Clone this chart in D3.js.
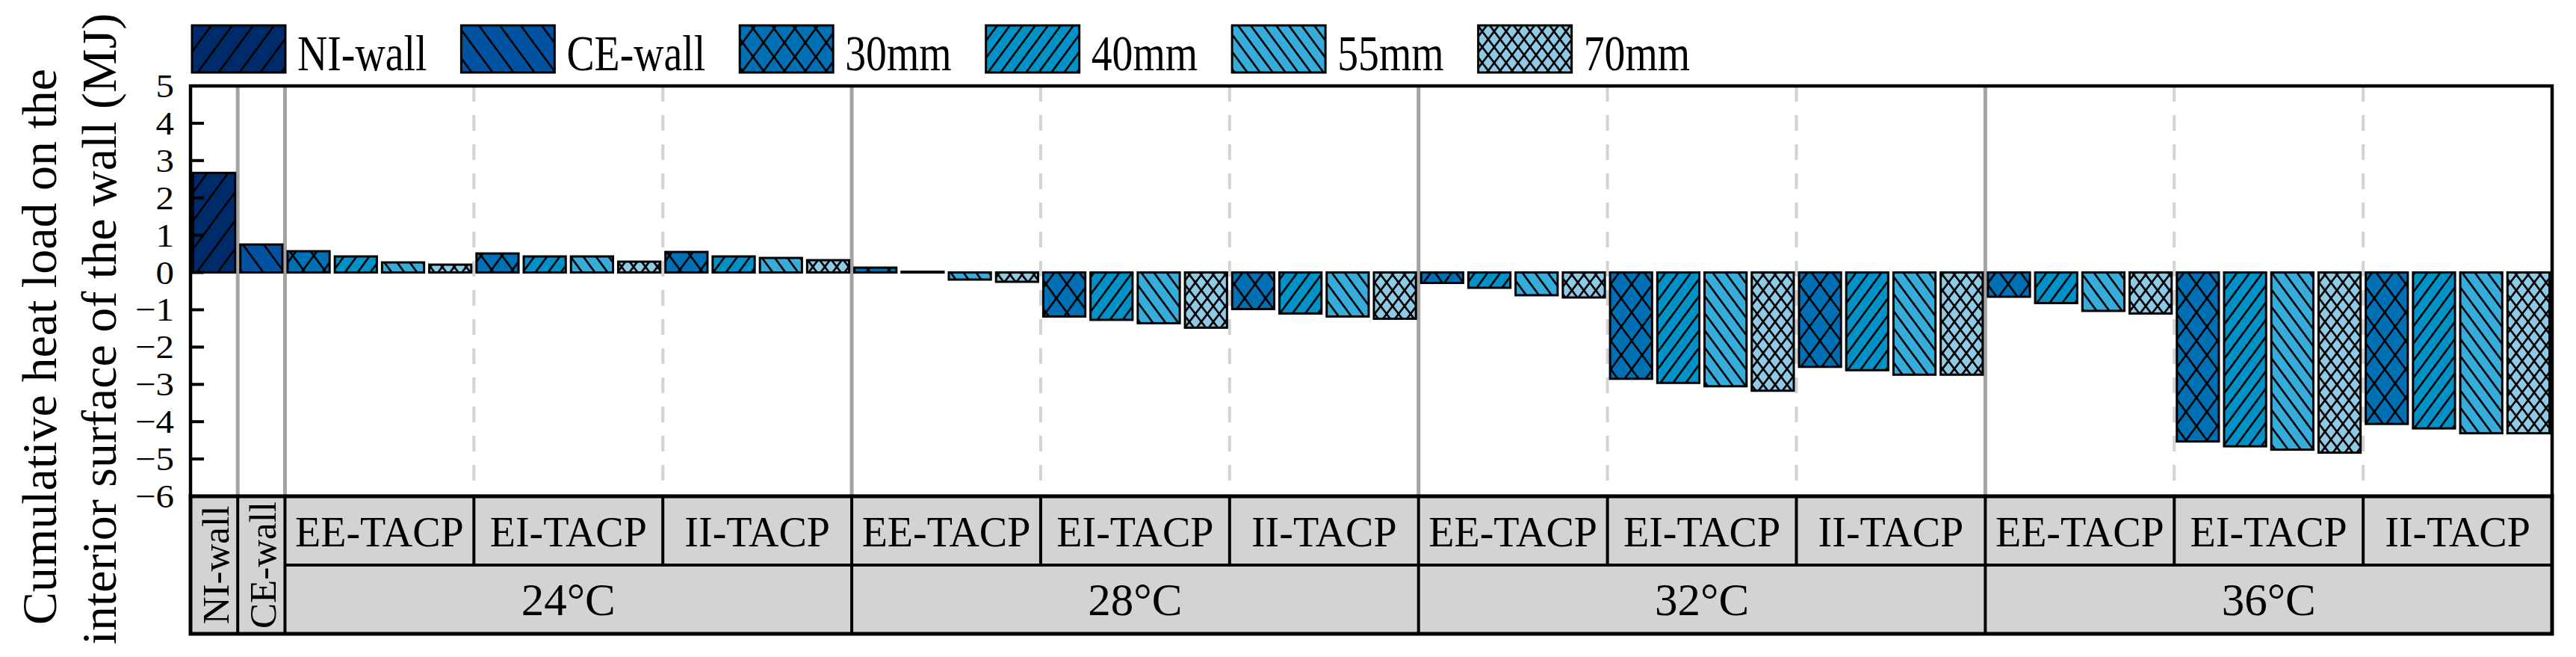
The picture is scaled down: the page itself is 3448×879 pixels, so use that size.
<!DOCTYPE html>
<html><head><meta charset="utf-8">
<script src="https://cdn.jsdelivr.net/npm/d3@7"></script>
<style>
body{margin:0;background:#fff}
text{font-family:"Liberation Serif","Times New Roman",serif;fill:#000}
</style>
</head><body>
<svg id="c" width="3448" height="879"></svg>
<script>
// ---------- data ----------
const seriesNames = ["NI-wall","CE-wall","30mm","40mm","55mm","70mm"];
const seriesColors = ["#002b6b","#0152a0","#0070b5","#0092c7","#35acd9","#8ecae4"];
const baseWalls = ["NI-wall","CE-wall"];
const baseValues = [2.67, 0.75];
const temperatures = ["24°C","28°C","32°C","36°C"];
const tacpTypes = ["EE-TACP","EI-TACP","II-TACP"];
const thicknesses = ["30mm","40mm","55mm","70mm"];
// rows: EE, EI, II ; columns: 30, 40, 55, 70 mm
const values24 = [[0.57,0.43,0.27,0.21],[0.51,0.43,0.43,0.29],[0.55,0.43,0.39,0.33]];
const values28 = [[0.13,0.02,-0.19,-0.25],[-1.18,-1.27,-1.36,-1.48],[-0.98,-1.10,-1.18,-1.24]];
const values32 = [[-0.28,-0.41,-0.61,-0.67],[-2.85,-2.96,-3.05,-3.17],[-2.53,-2.62,-2.74,-2.74]];
const values36 = [[-0.65,-0.82,-1.03,-1.10],[-4.53,-4.66,-4.75,-4.83],[-4.06,-4.18,-4.31,-4.31]];
const yTicks = [5,4,3,2,1,0,-1,-2,-3,-4,-5,-6];
const yTitle = ["Cumulative heat load on the","interior surface of the wall (MJ)"];

const tempValues = [values24, values28, values32, values36];

// ---------- build records ----------
const bars = [];
baseWalls.forEach((w,i)=>bars.push({key:w, series:w, value:baseValues[i]}));
temperatures.forEach((t,ti)=>tacpTypes.forEach((ty,yi)=>thicknesses.forEach((th,hi)=>{
  bars.push({key:t+"|"+ty+"|"+th, series:th, temp:t, type:ty, value:tempValues[ti][yi][hi]});
})));

// ---------- layout ----------
const L=255, R=3416, T=115, B=664, row1=756, tableB=848;
const svg = d3.select("#c");
const x = d3.scaleBand().domain(bars.map(d=>d.key)).range([L,R]).padding(0);
const y = d3.scaleLinear().domain([-6,5]).range([B,T]);
const bw = x.bandwidth();

// ---------- hatch patterns ----------
const hatchDefs = {
  "NI-wall":{dir:"/",w:28,h:38},
  "CE-wall":{dir:"\\",w:28,h:38},
  "30mm":{dir:"x",w:28,h:38},
  "40mm":{dir:"/",w:17,h:23},
  "55mm":{dir:"\\",w:17,h:23},
  "70mm":{dir:"x",w:16,h:21}
};
const defs = svg.append("defs");
seriesNames.forEach((s,i)=>{
  const hd = hatchDefs[s], W=hd.w, H=hd.h;
  const p = defs.append("pattern").attr("id","hp"+i).attr("patternUnits","userSpaceOnUse")
    .attr("width",W).attr("height",H);
  p.append("rect").attr("width",W).attr("height",H).attr("fill",seriesColors[i]);
  const fwd = `M0,${H}L${W},0M${-W/4},${H/4}L${W/4},${-H/4}M${3*W/4},${5*H/4}L${5*W/4},${3*H/4}`;
  const bwd = `M0,0L${W},${H}M${-W/4},${3*H/4}L${W/4},${5*H/4}M${3*W/4},${-H/4}L${5*W/4},${H/4}`;
  const d = hd.dir==="/"?fwd:hd.dir==="\\"?bwd:fwd+bwd;
  p.append("path").attr("d",d).attr("stroke","#000").attr("stroke-width",2.6).attr("fill","none");
});
const pid = s=>"url(#hp"+seriesNames.indexOf(s)+")";

// ---------- vertical separators ----------
const solidSeps = [x("CE-wall"), x(bars[2].key)];
temperatures.slice(1).forEach(t=>solidSeps.push(x(t+"|EE-TACP|30mm")));
const dashedSeps = [];
temperatures.forEach(t=>tacpTypes.slice(1).forEach(ty=>dashedSeps.push(x(t+"|"+ty+"|30mm"))));
svg.append("g").selectAll("line").data(dashedSeps).join("line")
  .attr("x1",d=>d).attr("x2",d=>d).attr("y1",T).attr("y2",B)
  .attr("stroke","#d3d3d3").attr("stroke-width",4).attr("stroke-dasharray","21,18");
svg.append("g").selectAll("line").data(solidSeps).join("line")
  .attr("x1",d=>d).attr("x2",d=>d).attr("y1",T).attr("y2",B)
  .attr("stroke","#a3a3a3").attr("stroke-width",5);

// ---------- bars ----------
const inset = bw*0.055, barW = bw*0.89;
svg.append("g").selectAll("rect").data(bars).join("rect")
  .attr("x",d=>x(d.key)+inset).attr("width",barW)
  .attr("y",d=>y(Math.max(0,d.value))).attr("height",d=>Math.abs(y(d.value)-y(0)))
  .attr("fill",d=>pid(d.series)).attr("stroke","#000").attr("stroke-width",3);

// ---------- frame & ticks ----------
svg.append("rect").attr("x",L).attr("y",T).attr("width",R-L).attr("height",B-T)
  .attr("fill","none").attr("stroke","#000").attr("stroke-width",4.5);
const fmt = d=>d<0?"\u2212"+Math.abs(d):String(d);
svg.append("g").selectAll("line").data(yTicks.filter(v=>v<5&&v>-6)).join("line")
  .attr("x1",L).attr("x2",L+18).attr("y1",d=>y(d)).attr("y2",d=>y(d))
  .attr("stroke","#000").attr("stroke-width",4);
svg.append("g").selectAll("text").data(yTicks).join("text")
  .attr("transform",d=>`translate(233,${y(d)}) scale(1.1,1)`)
  .attr("y",15).attr("text-anchor","end").attr("font-size",44.5)
  .text(fmt);

// ---------- y title ----------
const titleCenters = [464, 440], titleX = [75, 155];
yTitle.forEach((t,i)=>{
  svg.append("text").attr("transform",`translate(${titleX[i]},${titleCenters[i]}) rotate(-90)`)
    .attr("text-anchor","middle").attr("font-size",66).text(t);
});

// ---------- table ----------
const tg = svg.append("g");
tg.append("rect").attr("x",L).attr("y",B).attr("width",R-L).attr("height",tableB-B).attr("fill","#d3d3d3");
tg.append("line").attr("x1",x(bars[2].key)).attr("x2",R).attr("y1",row1).attr("y2",row1)
  .attr("stroke","#000").attr("stroke-width",4);
solidSeps.forEach(sx=>tg.append("line").attr("x1",sx).attr("x2",sx).attr("y1",B).attr("y2",tableB)
  .attr("stroke","#000").attr("stroke-width",4));
dashedSeps.forEach(sx=>tg.append("line").attr("x1",sx).attr("x2",sx).attr("y1",B).attr("y2",row1)
  .attr("stroke","#000").attr("stroke-width",4));
tg.append("rect").attr("x",L).attr("y",B).attr("width",R-L).attr("height",tableB-B)
  .attr("fill","none").attr("stroke","#000").attr("stroke-width",5);
baseWalls.forEach(w=>{
  tg.append("text").attr("transform",`translate(${x(w)+bw/2+2},${(B+tableB)/2}) rotate(-90)`)
    .attr("text-anchor","middle").attr("dominant-baseline","central").attr("font-size",51).text(w);
});
temperatures.forEach(t=>tacpTypes.forEach(ty=>{
  const x0 = x(t+"|"+ty+"|30mm"), x1 = x(t+"|"+ty+"|70mm")+bw;
  tg.append("text").attr("x",(x0+x1)/2).attr("y",731).attr("text-anchor","middle")
    .attr("font-size",56).text(ty);
}));
temperatures.forEach(t=>{
  const x0 = x(t+"|EE-TACP|30mm"), x1 = x(t+"|II-TACP|70mm")+bw;
  tg.append("text").attr("x",(x0+x1)/2).attr("y",823).attr("text-anchor","middle")
    .attr("font-size",61).text(t);
});

// ---------- legend ----------
const lg = svg.append("g");
let lx = 257;
seriesNames.forEach((s,i)=>{
  lg.append("rect").attr("x",lx).attr("y",34).attr("width",125).attr("height",63)
    .attr("fill",pid(s)).attr("stroke","#000").attr("stroke-width",3);
  const tx = lg.append("text").attr("transform",`translate(${lx+141},94) scale(0.82,1)`)
    .attr("font-size",68).text(s);
  const w = tx.node().getComputedTextLength()*0.82;
  lx = lx + 141 + w + 46;
});
</script>
</body></html>
